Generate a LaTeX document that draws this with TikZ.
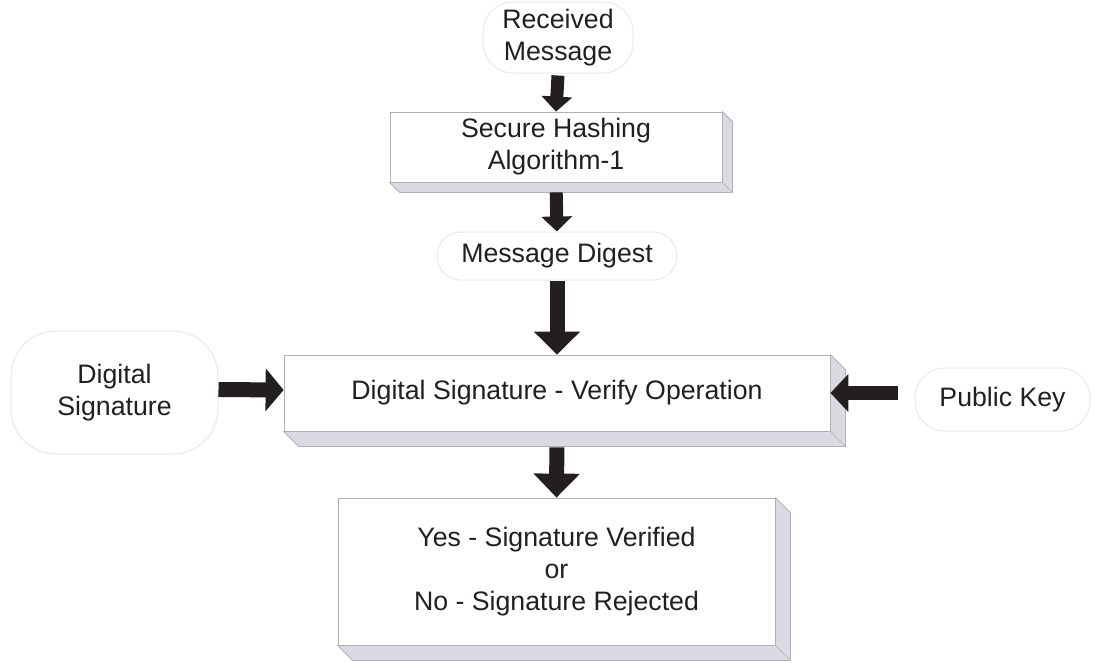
\documentclass[tikz,border=0pt]{standalone}
\usepackage{fontspec}
\setmainfont{Liberation Sans}
\usetikzlibrary{arrows.meta,calc}
\definecolor{ink}{HTML}{231F20}
\definecolor{bevelgrey}{HTML}{DADAE2}
\definecolor{edgegrey}{HTML}{B0B0B8}
\tikzset{
  every node/.style={font=\fontsize{26.7}{32}\selectfont, text=ink, align=center, inner sep=0pt},
  terminal/.style={draw=gray!18, line width=1pt, rounded corners=#1},
  terminal/.default=28pt,
  stepbox/.style={draw=edgegrey, line width=0.8pt, fill=white},
  fatarrow/.style={draw=ink, line width=#1},
}
% extruded lower and right faces of a box, depth #2
\newcommand\bevelof[2]{%
  \filldraw[fill=bevelgrey, draw=edgegrey, line width=0.8pt, line join=round]
    (#1.south west) -- ++(#2,#2) -- ($(#1.south east)+(#2,#2)$)
    -- ($(#1.north east)+(#2,#2)$) -- (#1.north east) -- (#1.south east) -- cycle;
  \draw[edgegrey, line width=0.6pt] (#1.south east) -- ++(#2,#2);}
\begin{document}
\begin{tikzpicture}[x=1pt,y=-1pt]
\useasboundingbox (0,0) rectangle (1102,662);

% input and output terminals
\node[terminal=30pt, minimum width=150pt, minimum height=71pt] (rec) at (558,37.5) {Received\\Message};
\node[terminal=24pt, minimum width=240pt, minimum height=48pt] (dig) at (557,256) {Message Digest};
\node[terminal=45pt, minimum width=207pt, minimum height=123pt] (dsig) at (114.5,392.5) {Digital\\Signature};
\node[terminal=30pt, minimum width=175pt, minimum height=63pt] (pk) at (1002.5,399.5) {Public Key};

% processing boxes
\node[stepbox, minimum width=332pt, minimum height=70pt] (sha) at (556,147) {Secure Hashing\\Algorithm-1};
\bevelof{sha}{10}
\node[stepbox, minimum width=546pt, minimum height=76pt] (ver) at (557,393) {Digital Signature - Verify Operation};
\bevelof{ver}{15}
\node[stepbox, minimum width=437pt, minimum height=147pt] (res) at (556.5,571.5) {Yes - Signature Verified\\or\\No - Signature Rejected};
\bevelof{res}{15}

% connectors
\draw[fatarrow=13pt, -{Triangle[width=30pt,length=15pt]}] (rec.south) ++(0,2) -- (sha.north);
\draw[fatarrow=13pt, -{Triangle[width=30pt,length=15pt]}, shorten <=10pt] (sha.south) -- (dig.north);
\draw[fatarrow=15pt, -{Triangle[width=45pt,length=23pt]}] (dig.south) -- (ver.north);
\draw[fatarrow=15pt, -{Triangle[width=45pt,length=24pt]}, shorten <=16pt] (ver.south) -- (res.north);
\draw[fatarrow=15pt, -{Triangle[width=42pt,length=18pt]}] ($(dsig.east)+(0,-3)$) -- ($(ver.west)+(0,-3)$);
\draw[fatarrow=14pt, -{Triangle[width=37pt,length=18pt]}, shorten <=17pt] (pk.west |- ver.east) -- (ver.east);
\end{tikzpicture}
\end{document}
